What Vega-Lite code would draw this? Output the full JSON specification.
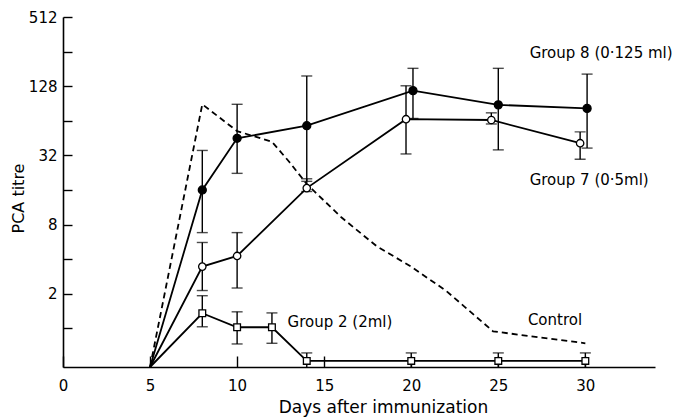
{
  "$schema": "https://vega.github.io/schema/vega-lite/v6.json",
  "width": 592,
  "height": 350,
  "autosize": "none",
  "padding": {"left": 63, "top": 17, "right": 19, "bottom": 50},
  "background": "white",
  "config": {
    "view": {"stroke": null},
    "font": "DejaVu Sans",
    "axis": {
      "grid": false,
      "domainColor": "black",
      "domainWidth": 1.6,
      "tickColor": "black",
      "tickWidth": 1.4,
      "labelColor": "black",
      "titleColor": "black",
      "labelFont": "DejaVu Sans",
      "titleFont": "DejaVu Sans",
      "titleFontWeight": "normal",
      "labelFontSize": 15,
      "labelOverlap": false,
      "labelFlush": false
    }
  },
  "datasets": {
    "lines": [
      {"group": "Control", "day": 5, "titre": 0.46},
      {"group": "Control", "day": 8, "titre": 89},
      {"group": "Control", "day": 10, "titre": 52},
      {"group": "Control", "day": 12, "titre": 42},
      {"group": "Control", "day": 13, "titre": 28},
      {"group": "Control", "day": 14, "titre": 18},
      {"group": "Control", "day": 16, "titre": 9.2},
      {"group": "Control", "day": 18, "titre": 5.2},
      {"group": "Control", "day": 20, "titre": 3.43},
      {"group": "Control", "day": 22, "titre": 2.12},
      {"group": "Control", "day": 24.7, "titre": 0.94},
      {"group": "Control", "day": 30, "titre": 0.74}
    ],
    "groups": [
      {"group": "Group 8", "day": 5, "titre": 0.46, "lo": 0.46, "hi": 0.46},
      {"group": "Group 8", "day": 8, "titre": 16, "lo": 6.8, "hi": 35.3},
      {"group": "Group 8", "day": 10, "titre": 45, "lo": 22.3, "hi": 89},
      {"group": "Group 8", "day": 14, "titre": 58, "lo": 19, "hi": 157},
      {"group": "Group 8", "day": 20.1, "titre": 117, "lo": 67, "hi": 183},
      {"group": "Group 8", "day": 25, "titre": 88, "lo": 35.7, "hi": 183},
      {"group": "Group 8", "day": 30.1, "titre": 82, "lo": 37, "hi": 163},
      {"group": "Group 7", "day": 5, "titre": 0.46, "lo": 0.46, "hi": 0.46},
      {"group": "Group 7", "day": 8, "titre": 3.44, "lo": 2.13, "hi": 5.58},
      {"group": "Group 7", "day": 10, "titre": 4.26, "lo": 2.24, "hi": 6.8},
      {"group": "Group 7", "day": 14, "titre": 16.6, "lo": 15.5, "hi": 20},
      {"group": "Group 7", "day": 19.7, "titre": 66, "lo": 32.9, "hi": 129},
      {"group": "Group 7", "day": 24.6, "titre": 65, "lo": 60, "hi": 75},
      {"group": "Group 7", "day": 29.7, "titre": 40.8, "lo": 29.6, "hi": 51.2},
      {"group": "Group 2", "day": 5, "titre": 0.46, "lo": 0.46, "hi": 0.46},
      {"group": "Group 2", "day": 8, "titre": 1.35, "lo": 1.03, "hi": 1.92},
      {"group": "Group 2", "day": 10, "titre": 1.02, "lo": 0.73, "hi": 1.39},
      {"group": "Group 2", "day": 12, "titre": 1.02, "lo": 0.74, "hi": 1.36},
      {"group": "Group 2", "day": 14, "titre": 0.52, "lo": 0.46, "hi": 0.61},
      {"group": "Group 2", "day": 20, "titre": 0.52, "lo": 0.46, "hi": 0.61},
      {"group": "Group 2", "day": 25, "titre": 0.52, "lo": 0.46, "hi": 0.61},
      {"group": "Group 2", "day": 30, "titre": 0.52, "lo": 0.46, "hi": 0.61}
    ],
    "labels": [
      {"text": "Group 8 (0·125 ml)", "day": 26.8, "titre": 248},
      {"text": "Group 7 (0·5ml)", "day": 26.8, "titre": 19.5},
      {"text": "Group 2 (2ml)", "day": 12.9, "titre": 1.14},
      {"text": "Control", "day": 26.7, "titre": 1.18}
    ]
  },
  "encoding": {
    "x": {
      "field": "day", "type": "quantitative",
      "scale": {"domain": [0, 34], "nice": false},
      "axis": {
        "values": [0, 5, 10, 15, 20, 25, 30],
        "tickSize": -11,
        "labelPadding": 22,
        "title": "Days after immunization",
        "titleFontSize": 17,
        "titleX": 320,
        "titleY": 45,
        "titleAlign": "center",
        "titleBaseline": "alphabetic"
      }
    },
    "y": {
      "field": "titre", "type": "quantitative",
      "scale": {"type": "log", "base": 2, "domain": [0.46, 512], "nice": false, "clamp": true},
      "axis": {
        "values": [1, 2, 4, 8, 16, 32, 64, 128, 256, 512],
        "labelExpr": "indexof([2, 8, 32, 128, 512], datum.value) >= 0 ? datum.label : ''",
        "format": "d",
        "tickSize": -9,
        "labelPadding": 15,
        "title": "PCA titre",
        "titleFontSize": 16,
        "titleX": -40,
        "titleY": 181,
        "titleAlign": "center",
        "titleBaseline": "alphabetic"
      }
    }
  },
  "layer": [
    {
      "data": {"name": "lines"},
      "mark": {"type": "line", "color": "black", "strokeWidth": 1.8, "strokeDash": [6, 4]}
    },
    {
      "data": {"name": "groups"},
      "mark": {"type": "line", "color": "black", "strokeWidth": 1.8},
      "encoding": {"detail": {"field": "group"}}
    },
    {
      "data": {"name": "groups"},
      "transform": [{"filter": "datum.day > 5"}],
      "mark": {"type": "rule", "color": "black", "strokeWidth": 1.4},
      "encoding": {"y": {"field": "lo", "type": "quantitative"}, "y2": {"field": "hi"}}
    },
    {
      "data": {"name": "groups"},
      "transform": [{"filter": "datum.day > 5"}],
      "mark": {"type": "tick", "orient": "horizontal", "color": "black", "size": 11, "thickness": 1.4},
      "encoding": {"y": {"field": "hi", "type": "quantitative"}}
    },
    {
      "data": {"name": "groups"},
      "transform": [{"filter": "datum.day > 5 && datum.lo > 0.5"}],
      "mark": {"type": "tick", "orient": "horizontal", "color": "black", "size": 11, "thickness": 1.4},
      "encoding": {"y": {"field": "lo", "type": "quantitative"}}
    },
    {
      "data": {"name": "groups"},
      "transform": [{"filter": "datum.day > 5"}],
      "mark": {"type": "point", "filled": true, "stroke": "black", "strokeWidth": 1.3, "opacity": 1},
      "encoding": {
        "shape": {"field": "group", "type": "nominal", "scale": {"domain": ["Group 8", "Group 7", "Group 2"], "range": ["circle", "circle", "square"]}, "legend": null},
        "fill": {"field": "group", "type": "nominal", "scale": {"domain": ["Group 8", "Group 7", "Group 2"], "range": ["black", "white", "white"]}, "legend": null},
        "size": {"field": "group", "type": "nominal", "scale": {"domain": ["Group 8", "Group 7", "Group 2"], "range": [64, 45, 100]}, "legend": null}
      }
    },
    {
      "data": {"name": "labels"},
      "mark": {"type": "text", "align": "left", "baseline": "middle", "font": "DejaVu Sans", "fontSize": 15, "color": "black"},
      "encoding": {"text": {"field": "text"}}
    }
  ]
}
